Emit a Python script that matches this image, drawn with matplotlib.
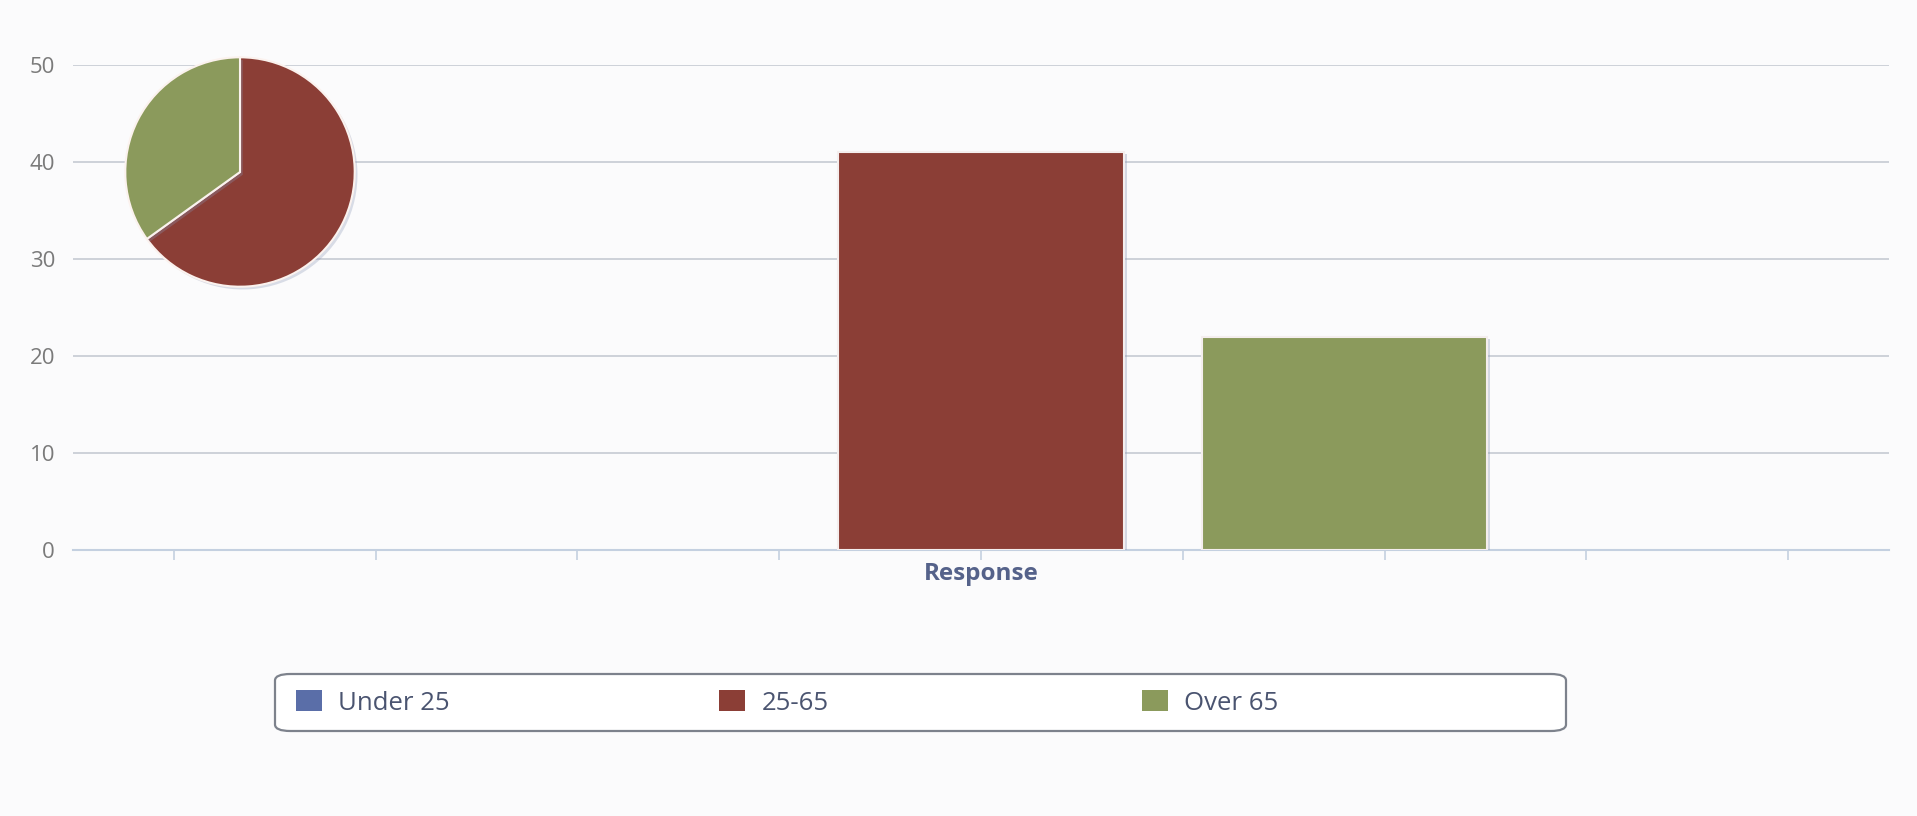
import numpy as np
import matplotlib
matplotlib.use("Agg")
import matplotlib.pyplot as plt
from matplotlib import patheffects as pe
from matplotlib.patches import FancyBboxPatch

# survey responses by age group
groups = ["Under 25", "25-65", "Over 65"]
counts = [0, 41, 22]
colors = ["#5a6ea8", "#8b3e36", "#8b9a5c"]
category = "Response"
yticks = [0, 10, 20, 30, 40, 50]

W, H = 1917, 816
fig = plt.figure(figsize=(W / 100, H / 100), dpi=100, facecolor="#fbfbfc")
plt.rcParams["font.family"] = ["Open Sans", "DejaVu Sans"]

ax = fig.add_axes([73 / W, 1 - 550 / H, (1889 - 73) / W, (550 - 65) / H])
ax.set_facecolor("none")

n = len(groups)
width = 0.157
offsets = (np.arange(n) - (n - 1) / 2) * 0.2
shadow = [pe.SimplePatchShadow(offset=(2.5, -1.5), shadow_rgbFace="#8a96b4", alpha=0.35), pe.Normal()]
bars = []
for i in range(n):
    b = ax.bar(offsets[i], counts[i], width=width, color=colors[i],
               edgecolor="#f4eeee", linewidth=1.5 if counts[i] > 0 else 0,
               zorder=3, label=groups[i])
    if counts[i] > 0:
        for p in b.patches:
            p.set_path_effects(shadow)
    bars.append(b)

ax.set_xlim(-0.5, 0.5)
ax.set_ylim(0, 50)
ax.set_yticks(yticks)
ax.yaxis.grid(True, color="#c6cad3", linewidth=1.2, zorder=0)
ax.set_axisbelow(True)
for s in ["top", "right", "left"]:
    ax.spines[s].set_visible(False)
ax.spines["bottom"].set_color("#c4d0e0")
ax.spines["bottom"].set_linewidth(1.5)
ax.tick_params(axis="y", length=0, pad=13, labelsize=16, labelcolor="#7a7a7a")

ax.set_xticks([0])
ax.set_xticklabels([category], fontweight="bold", fontsize=17.5, color="#55628a")
ax.set_xticks(np.arange(-4, 5) / 9, minor=True)
ax.tick_params(axis="x", which="both", length=7, color="#c4d0e0", width=1.2, direction="out")
ax.tick_params(axis="x", which="major", pad=2)

# pie of the same counts in the upper left corner
cx, cy, r = 240, 172, 117
pax = fig.add_axes([(cx - r) / W, 1 - (cy + r) / H, 2 * r / W, 2 * r / H])
wedges, _ = pax.pie(counts, colors=colors, startangle=90, counterclock=False, radius=1,
                    wedgeprops=dict(edgecolor="#fbf2ee", linewidth=1.5))
for w, c in zip(wedges, counts):
    if c > 0:
        w.set_path_effects([pe.SimplePatchShadow(offset=(2, -2), shadow_rgbFace="#8a96b4", alpha=0.3), pe.Normal()])
    else:
        w.set_visible(False)
pax.set_xlim(-1.02, 1.02)
pax.set_ylim(-1.02, 1.02)
pax.set_aspect("equal")
pax.axis("off")

# legend strip
frame = FancyBboxPatch((275 / W, 1 - 731 / H), (1566 - 275) / W, (731 - 674) / H,
                       boxstyle="round,pad=0,rounding_size=0.008", transform=fig.transFigure,
                       facecolor="white", edgecolor="#7d828c", linewidth=1.6, zorder=0)
fig.patches.append(frame)
xs = [296, 719, 1142]
for x, g, c in zip(xs, groups, colors):
    handle = plt.Rectangle((0, 0), 1, 1, facecolor=c, edgecolor="none")
    fig.legend([handle], [g], loc="center left", bbox_to_anchor=(x / W, 1 - 703 / H),
               frameon=False, fontsize=18.5, labelcolor="#4a5470", handlelength=1.0,
               handleheight=0.85, handletextpad=0.65, borderpad=0, borderaxespad=0)

fig.savefig("out.png", dpi=100, facecolor=fig.get_facecolor())
